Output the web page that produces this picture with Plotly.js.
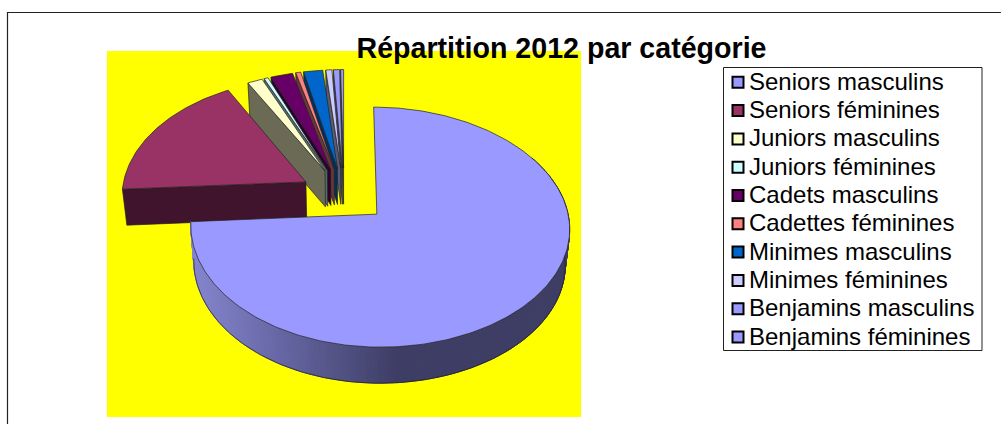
<!DOCTYPE html>
<html><head><meta charset="utf-8">
<script src="https://cdn.plot.ly/plotly-3.0.1.min.js"></script>
<style>html,body{margin:0;padding:0;background:#fff;overflow:hidden}#c{width:1001px;height:424px}</style>
</head><body><div id="c"></div>
<script>
const categories = ["Seniors masculins","Seniors féminines","Juniors masculins","Juniors féminines","Cadets masculins","Cadettes féminines","Minimes masculins","Minimes féminines","Benjamins masculins","Benjamins féminines"];
const values = [74.0, 18.0, 1.5, 0.4, 2.2, 0.5, 1.9, 0.6, 0.6, 0.3];
const topColors = ["#9999FF","#993366","#FFFFCC","#CCFFFF","#660066","#FF8080","#0066CC","#CCCCFF","#9999FF","#9999FF"];
const wallColors = ["#3C3C66","#3F142C","#6B6B55","#556B6B","#2C002C","#6B3636","#00305C","#5A5A70","#42426E","#42426E"];
const titleText = "Répartition 2012 par catégorie";

// projection of the exploded pie disc to the page
const P = {X0:344, Y0:195, Rx:184, A:-93.76, c:0.1064, d:-0.0152, explode:0.24, depth:36, shrink:0.98, scaleF:1.025};
function project(u,v){const w=1+P.c*v;return [P.X0+P.Rx*u/(w+P.d*u),(P.A*v+P.Y0)/w];}
function low(pt){return [P.X0+(pt[0]-P.X0)*P.shrink,pt[1]+P.depth];}
const rad=a=>a*Math.PI/180;
const total=values.reduce((s,v)=>s+v,0);
let acc=0;
const slices=values.map((v,i)=>{
  const a0=acc/total*360; acc+=v; const a1=acc/total*360; const mid=(a0+a1)/2;
  return {i,a0,a1,r:i===1?P.scaleF:1,ou:P.explode*Math.sin(rad(mid)),ov:P.explode*Math.cos(rad(mid))};
});
function rim(s,a){return project(s.ou+s.r*Math.sin(rad(a)),s.ov+s.r*Math.cos(rad(a)));}
function apex(s){return project(s.ou,s.ov);}
function poly(pts,fill,lineColor,lineWidth){
  return {type:"scatter",mode:"lines",x:pts.map(p=>p[0]),y:pts.map(p=>p[1]),fill:"toself",fillcolor:fill,
    line:{color:lineColor,width:lineWidth},hoverinfo:"skip",showlegend:false};
}
const edge="#222222", traces=[];
function topFace(s){
  const pts=[apex(s)];
  for(let a=s.a0;a<s.a1;a+=1)pts.push(rim(s,a));
  pts.push(rim(s,s.a1));pts.push(apex(s));
  return poly(pts,topColors[s.i],edge,0.7);
}
function startWall(s){
  const A=apex(s),B=rim(s,s.a0);
  return poly([A,B,low(B),low(A),A],wallColors[s.i],edge,0.7);
}
// small slices, painted from the back (right) to the front (left)
for(let i=slices.length-1;i>=2;i--){traces.push(startWall(slices[i]));traces.push(topFace(slices[i]));}
// seniors féminines
traces.push(startWall(slices[1]));traces.push(topFace(slices[1]));
// seniors masculins: shaded rim then top
const shadeX=[190,280,347,396,1001];
const shadeC=[[133,133,208],[102,102,165],[79,79,128],[61,61,102],[61,61,102]];
function shade(x){
  let k=0;while(k<shadeX.length-2&&x>shadeX[k+1])k++;
  const t=Math.max(0,Math.min(1,(x-shadeX[k])/(shadeX[k+1]-shadeX[k])));
  const c=shadeC[k].map((q,j)=>Math.round(q+(shadeC[k+1][j]-q)*t));
  return `rgb(${c[0]},${c[1]},${c[2]})`;
}
const main=slices[0];
for(let a=60;a<main.a1;a+=1){
  const b=Math.min(a+1,main.a1),p=rim(main,a),q=rim(main,b);
  const col=shade((p[0]+q[0])/2);
  traces.push(poly([p,q,low(q),low(p),p],col,col,1));
}
const rimLow=[];for(let a=60;a<=main.a1;a+=1)rimLow.push(low(rim(main,a)));
traces.push({type:"scatter",mode:"lines",x:rimLow.map(p=>p[0]),y:rimLow.map(p=>p[1]),line:{color:edge,width:0.7},hoverinfo:"skip",showlegend:false});
traces.push(topFace(main));
// legend
const legendY0=82.3,legendStep=28.3;
categories.forEach((c,i)=>{
  traces.push({type:"scatter",mode:"markers",name:c,x:[738],y:[legendY0+i*legendStep],
    marker:{symbol:"square",size:11,color:topColors[i],line:{color:"#000",width:2}},showlegend:false,hoverinfo:"name",cliponaxis:false});
  traces.push({type:"scatter",mode:"text",name:c,x:[749],y:[legendY0+1.5+i*legendStep],text:[c],textposition:"middle right",
    textfont:{family:"Liberation Sans, Arial, sans-serif",size:24,color:"#000"},showlegend:false,hoverinfo:"name",cliponaxis:false});
});
const layout={
  width:1001,height:424,margin:{l:0,r:0,t:0,b:0},paper_bgcolor:"#fff",plot_bgcolor:"rgba(0,0,0,0)",showlegend:false,
  xaxis:{range:[0,1001],visible:false,fixedrange:true},
  yaxis:{range:[424,0],visible:false,fixedrange:true},
  title:{text:titleText,font:{family:"Liberation Sans, Arial, sans-serif",size:28.6,color:"#000",weight:700},x:561.5/1001,xanchor:"center",xref:"paper",y:1-48/424,yanchor:"middle",yref:"container"},
  shapes:[
    {type:"rect",layer:"below",x0:107,x1:581,y0:51,y1:417,fillcolor:"#FFFF00",line:{width:0}},
    {type:"rect",layer:"below",x0:723.5,x1:982,y0:67.5,y1:350.5,fillcolor:"#fff",line:{color:"#222",width:1}},
    {type:"path",layer:"below",path:"M7.5,424 L7.5,12.5 L1001,12.5",line:{color:"#222",width:1.2}}
  ]
};
Plotly.newPlot("c",traces,layout,{displayModeBar:false,staticPlot:true});
</script></body></html>
